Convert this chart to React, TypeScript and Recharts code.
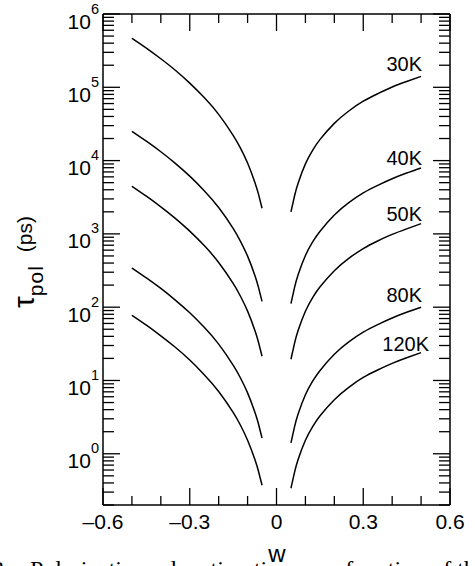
import { LineChart, Line, XAxis, YAxis } from 'recharts';

// w values of the sampled points, left and right branches
const LEFT_W = [-0.5, -0.45, -0.4, -0.35, -0.3, -0.25, -0.2, -0.15, -0.125, -0.1, -0.075, -0.0625, -0.05];
const RIGHT_W = [0.05, 0.0625, 0.075, 0.1, 0.125, 0.15, 0.2, 0.25, 0.3, 0.35, 0.4, 0.45, 0.5];

// tau_pol (ps)
const tau30L = [4.68e5, 3.43e5, 2.45e5, 1.71e5, 1.14e5, 7.24e4, 4.27e4, 2.21e4, 1.49e4, 9.25e3, 5.08e3, 3.51e3, 2.24e3];
const tau40L = [2.51e4, 1.84e4, 1.32e4, 9.18e3, 6.14e3, 3.89e3, 2.29e3, 1.19e3, 798, 497, 273, 188, 120];
const tau50L = [4.47e3, 3.27e3, 2.34e3, 1.63e3, 1.09e3, 692, 407, 211, 142, 88.3, 48.5, 33.5, 21.4];
const tau80L = [343, 251, 180, 125, 83.8, 53.1, 31.3, 16.2, 10.9, 6.78, 3.72, 2.57, 1.64];
const tau120L = [77.6, 56.9, 40.7, 28.4, 19.0, 12.0, 7.08, 3.67, 2.47, 1.53, 0.843, 0.582, 0.372];

const tau30R = [2.0e3, 3.31e3, 4.95e3, 9.02e3, 1.38e4, 1.93e4, 3.22e4, 4.75e4, 6.46e4, 8.18e4, 1.01e5, 1.2e5, 1.41e5];
const tau40R = [112, 186, 279, 507, 776, 1.08e3, 1.81e3, 2.67e3, 3.63e3, 4.6e3, 5.66e3, 6.76e3, 7.94e3];
const tau50R = [19.5, 32.4, 48.4, 88.1, 135, 188, 315, 464, 631, 800, 984, 1.17e3, 1.38e3];
const tau80R = [1.41, 2.34, 3.51, 6.38, 9.77, 13.6, 22.8, 33.7, 45.7, 57.9, 71.3, 85.1, 100];
const tau120R = [0.339, 0.562, 0.841, 1.53, 2.34, 3.27, 5.47, 8.07, 11.0, 13.9, 17.1, 20.4, 24.0];

const SERIES = ['30K', '40K', '50K', '80K', '120K'];

// axis ticks
const W_TICKS = [-0.6, -0.5, -0.4, -0.3, -0.2, -0.1, 0, 0.1, 0.2, 0.3, 0.4, 0.5, 0.6];
const W_MAJOR = [-0.6, -0.3, 0, 0.3, 0.6];
const W_LABELS = ['\u20130.6', '\u20130.3', '0', '0.3', '0.6'];
const DECADES = [0.1, 1, 10, 100, 1e3, 1e4, 1e5, 1e6];
const DECADE_EXP = ['-1', '0', '1', '2', '3', '4', '5', '6'];
const MANTISSA = [1, 2, 3, 4, 5, 6, 7, 8, 9];

const Y_MIN = 0.2;
const Y_MAX = 1e6;

const tauTicks: number[] = [];
DECADES.forEach((d) => {
  MANTISSA.forEach((m) => {
    const v = +(m * d).toPrecision(3);
    if (v >= Y_MIN - 1e-9 && v <= Y_MAX + 1e-9) tauTicks.push(v);
  });
});

const leftSets = [tau30L, tau40L, tau50L, tau80L, tau120L];
const rightSets = [tau30R, tau40R, tau50R, tau80R, tau120R];

const rows: Record<string, number>[] = [];
LEFT_W.forEach((w, i) => {
  const r: Record<string, number> = { w };
  SERIES.forEach((s, k) => (r['L' + s] = leftSets[k][i]));
  rows.push(r);
});
RIGHT_W.forEach((w, i) => {
  const r: Record<string, number> = { w };
  SERIES.forEach((s, k) => (r['R' + s] = rightSets[k][i]));
  rows.push(r);
});

const FONT = 'Liberation Sans, Arial, Helvetica, sans-serif';
const SERIF = 'Liberation Serif, Times New Roman, serif';
const INK = '#000';

const majorW = (v: number) => W_MAJOR.findIndex((m) => Math.abs(m - v) < 1e-6);
const decadeIdx = (v: number) => DECADES.findIndex((d) => Math.abs(d - v) / d < 1e-6);

function BottomTick(props: any) {
  const { x, y, payload } = props;
  const mi = majorW(payload.value);
  return (
    <g>
      <line x1={x} x2={x} y1={y} y2={y - (mi >= 0 ? 17 : 9)} stroke={INK} strokeWidth={1.3} />
      {mi >= 0 && (
        <text x={x} y={y + 24} textAnchor="middle" fontSize={21} fontFamily={FONT} fill={INK}>
          {W_LABELS[mi]}
        </text>
      )}
    </g>
  );
}

function TopTick(props: any) {
  const { x, y, payload } = props;
  const mi = majorW(payload.value);
  return <line x1={x} x2={x} y1={y} y2={y + (mi >= 0 ? 17 : 9)} stroke={INK} strokeWidth={1.3} />;
}

function LeftTick(props: any) {
  const { x, y, payload } = props;
  const di = decadeIdx(payload.value);
  return (
    <g>
      <line x1={x} x2={x + (di >= 0 ? 17 : 11)} y1={y} y2={y} stroke={INK} strokeWidth={1.3} />
      {di >= 0 && (
        <text x={x - 4} y={y + 14.5} textAnchor="end" fontSize={21} fontFamily={FONT} fill={INK}>
          <tspan>10</tspan>
          <tspan dy={-15} fontSize={14.5}>
            {DECADE_EXP[di]}
          </tspan>
        </text>
      )}
    </g>
  );
}

function RightTick(props: any) {
  const { x, y, payload } = props;
  const di = decadeIdx(payload.value);
  return <line x1={x} x2={x - (di >= 0 ? 17 : 11)} y1={y} y2={y} stroke={INK} strokeWidth={1.3} />;
}

// curve labels, placed next to the right-hand ends
const LABEL_POS = [
  { x: 422, y: 71 },
  { x: 422, y: 165 },
  { x: 422, y: 221 },
  { x: 422, y: 302 },
  { x: 429, y: 351 },
];

export default function App() {
  return (
    <div style={{ position: 'absolute', left: 0, top: 0, width: 475, height: 566 }}>
      <LineChart
        width={475}
        height={566}
        data={rows}
        margin={{ top: 4, right: 5, bottom: 31, left: 43 }}
      >
        <XAxis
          dataKey="w"
          type="number"
          domain={[-0.6, 0.6]}
          ticks={W_TICKS}
          interval={0}
          height={30}
          tickSize={0}
          tickMargin={0}
          tickLine={false}
          axisLine={{ stroke: INK, strokeWidth: 1.5 }}
          tick={<BottomTick />}
          allowDataOverflow
        />
        <XAxis
          xAxisId="top"
          orientation="top"
          dataKey="w"
          type="number"
          domain={[-0.6, 0.6]}
          ticks={W_TICKS}
          interval={0}
          height={10}
          tickSize={0}
          tickMargin={0}
          tickLine={false}
          axisLine={{ stroke: INK, strokeWidth: 1.5 }}
          tick={<TopTick />}
          allowDataOverflow
        />
        <YAxis
          type="number"
          scale="log"
          domain={[Y_MIN, Y_MAX]}
          ticks={tauTicks}
          interval={0}
          width={60}
          tickSize={0}
          tickMargin={0}
          tickLine={false}
          axisLine={{ stroke: INK, strokeWidth: 1.5 }}
          tick={<LeftTick />}
          allowDataOverflow
        />
        <YAxis
          yAxisId="right"
          orientation="right"
          type="number"
          scale="log"
          domain={[Y_MIN, Y_MAX]}
          ticks={tauTicks}
          interval={0}
          width={20}
          tickSize={0}
          tickMargin={0}
          tickLine={false}
          axisLine={{ stroke: INK, strokeWidth: 1.5 }}
          tick={<RightTick />}
          allowDataOverflow
        />
        {SERIES.map((s) => (
          <Line
            key={'L' + s}
            dataKey={'L' + s}
            type="natural"
            stroke={INK}
            strokeWidth={1.5}
            dot={false}
            activeDot={false}
            connectNulls={false}
            isAnimationActive={false}
          />
        ))}
        {SERIES.map((s) => (
          <Line
            key={'R' + s}
            dataKey={'R' + s}
            type="natural"
            stroke={INK}
            strokeWidth={1.5}
            dot={false}
            activeDot={false}
            connectNulls={false}
            isAnimationActive={false}
          />
        ))}
      </LineChart>
      <svg
        width={475}
        height={566}
        style={{ position: 'absolute', left: 0, top: 0, pointerEvents: 'none' }}
      >
        {SERIES.map((s, i) => (
          <text
            key={s}
            x={LABEL_POS[i].x}
            y={LABEL_POS[i].y}
            textAnchor="end"
            fontSize={20}
            fontFamily={FONT}
            fill={INK}
          >
            {s}
          </text>
        ))}
        <text x={277} y={562} textAnchor="middle" fontSize={24} fontFamily={FONT} fill={INK}>
          w
        </text>
        <text
          transform="translate(34,262) rotate(-90)"
          textAnchor="middle"
          fontFamily={FONT}
          fill={INK}
        >
          <tspan fontSize={30}>τ</tspan>
          <tspan fontSize={21} dy={9} letterSpacing={1}>
            pol
          </tspan>
          <tspan fontSize={21} dy={-11} dx={13}>
            (ps)
          </tspan>
        </text>
        <text x={-8} y={577} fontFamily={SERIF} fontSize={24} fill={INK}>
          3.
        </text>
        <text x={30} y={577} fontFamily={SERIF} fontSize={24} fill={INK}>
          Polarization relaxation time as a function of the
        </text>
      </svg>
    </div>
  );
}
